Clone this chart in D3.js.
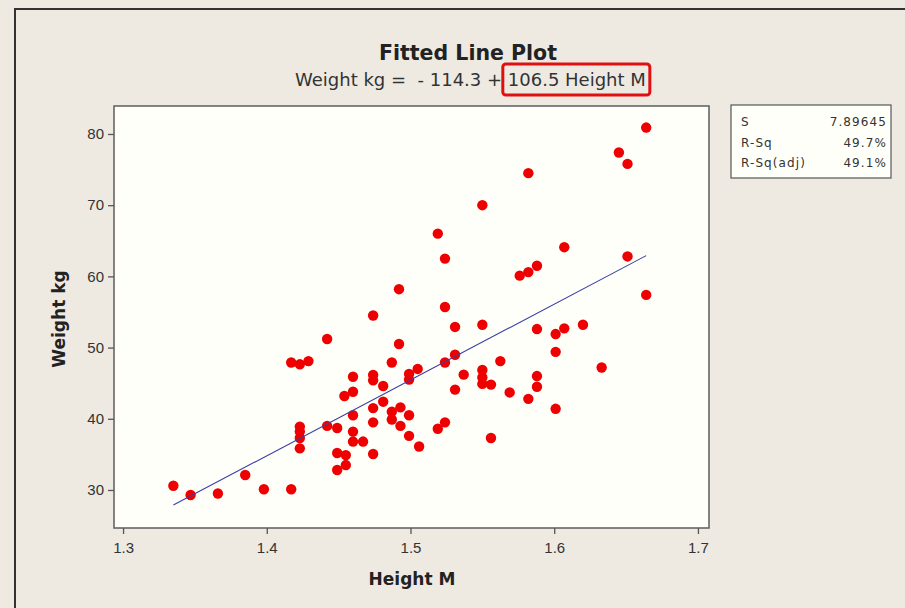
<!DOCTYPE html>
<html>
<head>
<meta charset="utf-8">
<script src="https://cdnjs.cloudflare.com/ajax/libs/d3/7.8.5/d3.min.js"></script>
<style>
  html, body { margin: 0; padding: 0; background: #eeeae2; }
  svg { display: block; font-family: "DejaVu Sans", Verdana, sans-serif; }
</style>
</head>
<body>
<svg id="chart" width="905" height="608"></svg>
<script>
// Height (m) of each person
const heights = [
  1.335, 1.347, 1.366, 1.385, 1.398, 1.417, 1.417, 1.423, 1.429, 1.423,
  1.423, 1.423, 1.423, 1.442, 1.442, 1.449, 1.449, 1.449, 1.455, 1.455,
  1.454, 1.460, 1.460, 1.460, 1.460, 1.460, 1.467, 1.474, 1.474, 1.474,
  1.474, 1.474, 1.474, 1.481, 1.481, 1.487, 1.487, 1.487, 1.492, 1.492,
  1.493, 1.493, 1.499, 1.499, 1.499, 1.499, 1.505, 1.506, 1.519, 1.519,
  1.524, 1.524, 1.524, 1.524, 1.531, 1.531, 1.531, 1.537, 1.550, 1.550,
  1.550, 1.550, 1.550, 1.556, 1.556, 1.5625, 1.569, 1.576, 1.582, 1.582,
  1.582, 1.588, 1.588, 1.588, 1.588, 1.601, 1.601, 1.601, 1.607, 1.607,
  1.620, 1.633, 1.645, 1.651, 1.651, 1.664, 1.664
];
// Weight (kg) of each person, same order
const weights = [
  30.6, 29.3, 29.5, 32.1, 30.1, 30.1, 47.9, 47.65, 48.1, 38.9,
  38.2, 37.3, 35.85, 51.2, 39.0, 38.7, 35.2, 32.8, 34.9, 33.5,
  43.2, 43.8, 45.9, 40.5, 38.2, 36.8, 36.8, 54.5, 46.15, 45.4,
  41.5, 39.5, 35.05, 44.6, 42.4, 47.9, 41.0, 39.9, 58.2, 50.5,
  41.6, 39.0, 46.3, 45.5, 40.5, 37.6, 47.0, 36.1, 66.0, 38.6,
  62.5, 55.7, 47.9, 39.5, 52.9, 49.0, 44.1, 46.2, 70.0, 53.2,
  46.85, 45.8, 44.9, 44.8, 37.3, 48.1, 43.7, 60.1, 60.6, 74.5,
  42.8, 61.5, 52.6, 46.0, 44.5, 51.9, 49.4, 41.4, 64.1, 52.7,
  53.2, 47.2, 77.4, 75.8, 62.8, 80.9, 57.4
];

// Fitted regression: Weight = intercept + slope * Height
const intercept = -114.3;
const slope = 106.5;

const xTicks = [1.3, 1.4, 1.5, 1.6, 1.7];
const yTicks = [30, 40, 50, 60, 70, 80];

const statLabels = ["S", "R-Sq", "R-Sq(adj)"];
const statValues = ["7.89645", "49.7%", "49.1%"];

const svg = d3.select("#chart");

// Outer panel frame
svg.append("path")
  .attr("d", "M15,608 L15,9 L905,9")
  .attr("fill", "none")
  .attr("stroke", "#333")
  .attr("stroke-width", 2);

const plot = { left: 114, top: 106, right: 709, bottom: 528 };

const x = d3.scaleLinear().domain([1.2937, 1.7077]).range([plot.left, plot.right]);
const y = d3.scaleLinear().domain([24.66, 83.93]).range([plot.bottom, plot.top]);

// Plot area
svg.append("rect")
  .attr("x", plot.left).attr("y", plot.top)
  .attr("width", plot.right - plot.left)
  .attr("height", plot.bottom - plot.top)
  .attr("fill", "#fffffa")
  .attr("stroke", "#666")
  .attr("stroke-width", 1.6);

// Axes
const xAxis = svg.append("g")
  .attr("transform", `translate(0,${plot.bottom})`)
  .call(d3.axisBottom(x).tickValues(xTicks).tickFormat(d3.format(".1f")).tickSize(6).tickPadding(8));
const yAxis = svg.append("g")
  .attr("transform", `translate(${plot.left},0)`)
  .call(d3.axisLeft(y).tickValues(yTicks).tickFormat(d3.format("d")).tickSize(6).tickPadding(4));

[xAxis, yAxis].forEach(g => {
  g.select(".domain").remove();
  g.selectAll(".tick line").attr("stroke", "#555").attr("stroke-width", 1.3);
  g.selectAll(".tick text").attr("fill", "#333").attr("font-size", 15);
});

// Points
const data = heights.map((h, i) => ({ h, w: weights[i] }));
svg.append("g")
  .selectAll("circle")
  .data(data)
  .join("circle")
  .attr("cx", d => x(d.h))
  .attr("cy", d => y(d.w))
  .attr("r", 5.2)
  .attr("fill", "#ee0000");

// Fitted line across the observed height range
const [hMin, hMax] = d3.extent(heights);
svg.append("line")
  .attr("x1", x(hMin)).attr("y1", y(intercept + slope * hMin))
  .attr("x2", x(hMax)).attr("y2", y(intercept + slope * hMax))
  .attr("stroke", "#3b3fa5")
  .attr("stroke-width", 1.1);

// Titles
svg.append("text")
  .attr("x", 468).attr("y", 60)
  .attr("text-anchor", "middle")
  .attr("font-size", 20.5)
  .attr("font-weight", "bold")
  .attr("fill", "#222")
  .text("Fitted Line Plot");

const slopeText = `${slope} Height M`;
const eq = svg.append("text")
  .attr("x", 295).attr("y", 86)
  .attr("font-size", 18)
  .attr("fill", "#333")
  .attr("xml:space", "preserve");
eq.append("tspan").text(`Weight kg =  - ${Math.abs(intercept)} + `);
eq.append("tspan").text(slopeText);

// Highlight box around the slope term
const eqNode = eq.node();
const n = eqNode.getNumberOfChars();
const ext0 = eqNode.getExtentOfChar(n - slopeText.length);
const ext1 = eqNode.getExtentOfChar(n - 1);
svg.append("rect")
  .attr("x", ext0.x - 5)
  .attr("y", 64)
  .attr("width", ext1.x + ext1.width - ext0.x + 9)
  .attr("height", 31)
  .attr("rx", 3)
  .attr("fill", "none")
  .attr("stroke", "#e01010")
  .attr("stroke-width", 3);

svg.append("text")
  .attr("x", 412).attr("y", 585)
  .attr("text-anchor", "middle")
  .attr("font-size", 17)
  .attr("font-weight", "bold")
  .attr("fill", "#222")
  .text("Height M");

svg.append("text")
  .attr("transform", `translate(65,${(plot.top + plot.bottom) / 2 + 2}) rotate(-90)`)
  .attr("text-anchor", "middle")
  .attr("font-size", 17)
  .attr("font-weight", "bold")
  .attr("fill", "#222")
  .text("Weight kg");

// Summary statistics box
const sb = { x: 731, y: 105, w: 160, h: 73 };
svg.append("rect")
  .attr("x", sb.x).attr("y", sb.y).attr("width", sb.w).attr("height", sb.h)
  .attr("fill", "#fffffa")
  .attr("stroke", "#555")
  .attr("stroke-width", 1.2);
const stats = svg.append("g")
  .attr("font-size", 12)
  .attr("letter-spacing", 1.1)
  .attr("fill", "#333");
statLabels.forEach((lab, i) => {
  const yy = sb.y + 21 + i * 20.5;
  stats.append("text").attr("x", sb.x + 10).attr("y", yy).text(lab);
  stats.append("text").attr("x", sb.x + sb.w - 4).attr("y", yy)
    .attr("text-anchor", "end").text(statValues[i]);
});
</script>
</body>
</html>
